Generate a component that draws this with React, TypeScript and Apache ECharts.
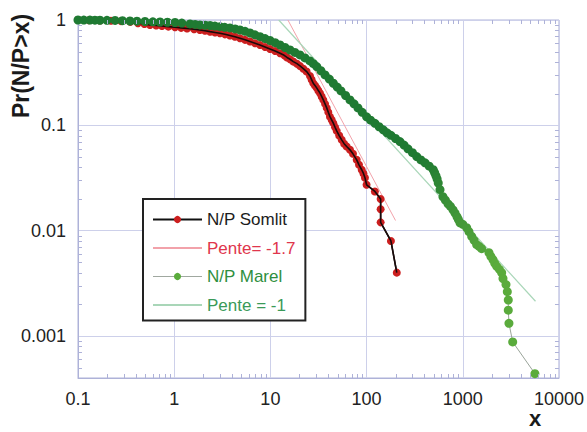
import React, { useEffect, useRef } from 'react';
import * as echarts from 'echarts';

const X_MIN = 0.1;
const X_MAX = 10000;
const Y_MIN = 0.0004;
const Y_MAX = 1;

const somlitX = [0.1, 0.13, 0.169, 0.22, 0.28, 0.35, 0.42, 0.49, 0.56, 0.65, 0.746, 0.87, 1.02, 1.18, 1.36, 1.61, 1.85, 2.09, 2.36, 2.66, 2.99, 3.37, 3.8, 4.28, 4.83, 5.45, 6.14, 6.92, 7.8, 8.8, 9.91, 11.2, 12.6, 13.9, 14.9, 16.0, 17.3, 18.9, 20.3, 22.0, 23.8, 25.8, 26.8, 27.9, 29.1, 30.3, 31.5, 32.8, 34.1, 35.5, 37.0, 38.5, 40.0, 41.6, 43.3, 45.1, 47.0, 48.9, 51.9, 55.1, 58.4, 62.1, 67.2, 72.2, 78.9, 83.4, 89.0, 92.8, 96.2, 100, 122, 140, 140, 140, 179, 206];
const somlitY = [1.0, 0.995, 0.99, 0.985, 0.975, 0.96, 0.93, 0.915, 0.897, 0.887, 0.877, 0.865, 0.853, 0.842, 0.831, 0.818, 0.804, 0.79, 0.775, 0.762, 0.748, 0.731, 0.713, 0.693, 0.671, 0.648, 0.625, 0.602, 0.579, 0.555, 0.531, 0.507, 0.483, 0.462, 0.441, 0.424, 0.403, 0.385, 0.366, 0.345, 0.324, 0.294, 0.272, 0.251, 0.239, 0.227, 0.214, 0.202, 0.188, 0.1745, 0.16, 0.1465, 0.133, 0.121, 0.113, 0.105, 0.096, 0.0887, 0.08, 0.0729, 0.067, 0.063, 0.0586, 0.0537, 0.0471, 0.0422, 0.0379, 0.035, 0.0318, 0.0273, 0.0236, 0.02, 0.016, 0.012, 0.008, 0.004];

const marelX = [0.1, 0.115, 0.133, 0.15, 0.169, 0.2, 0.243, 0.29, 0.347, 0.41, 0.497, 0.6, 0.712, 0.85, 1.02, 1.2, 1.46, 1.65, 1.85, 2.1, 2.36, 2.65, 2.99, 3.35, 3.8, 4.3, 4.83, 5.45, 6.14, 6.9, 7.8, 8.8, 9.91, 11.2, 12.6, 14.2, 16.0, 18.0, 20.3, 22.9, 25.8, 28.0, 30.3, 33.5, 37.0, 41.0, 45.1, 49.5, 54.2, 60.5, 67.2, 74.0, 81.4, 90.0, 100, 110, 122, 135, 149, 163, 179, 200, 222, 245, 269, 300, 332, 367, 405, 448, 493, 510, 526, 541, 556, 580, 622, 660, 702, 745, 791, 830, 871, 900, 935, 1000, 1098, 1160, 1238, 1310, 1395, 1480, 1572, 1872, 1960, 2061, 2150, 2251, 2400, 2537, 2618, 2813, 2904, 2972, 2972, 3020, 3303, 5623];
const marelY = [1.0, 0.999, 0.998, 0.997, 0.995, 0.993, 0.99, 0.985, 0.978, 0.975, 0.968, 0.962, 0.957, 0.952, 0.947, 0.935, 0.917, 0.907, 0.897, 0.892, 0.887, 0.876, 0.864, 0.852, 0.84, 0.822, 0.804, 0.78, 0.753, 0.724, 0.695, 0.667, 0.639, 0.609, 0.579, 0.548, 0.519, 0.492, 0.466, 0.437, 0.409, 0.385, 0.361, 0.33, 0.301, 0.275, 0.251, 0.231, 0.212, 0.192, 0.1745, 0.16, 0.1465, 0.133, 0.1206, 0.112, 0.1045, 0.097, 0.0906, 0.085, 0.0804, 0.075, 0.0702, 0.065, 0.0599, 0.055, 0.0506, 0.047, 0.0441, 0.041, 0.0379, 0.0355, 0.0332, 0.031, 0.0283, 0.0245, 0.021, 0.0195, 0.018, 0.017, 0.0158, 0.0147, 0.0136, 0.0128, 0.0119, 0.0115, 0.01067, 0.0098, 0.00883, 0.0081, 0.00737, 0.0071, 0.00675, 0.00619, 0.0057, 0.00531, 0.0049, 0.00459, 0.0043, 0.004, 0.00352, 0.00308, 0.00264, 0.0022, 0.00176, 0.00132, 0.00088, 0.00044];

const fitSomlitX = [15.2, 200];
const fitSomlitY = [1, 0.0125];
const fitMarelX = [12.2, 5700];
const fitMarelY = [1, 0.00214];

const xDecades = [0.1, 1, 10, 100, 1000];
const yDecades = [0.0001, 0.001, 0.01, 0.1];
const minorMultipliers = [2, 3, 4, 5, 6, 7, 8, 9];

const FONT = "'Liberation Sans', Arial, Helvetica, sans-serif";
const FRAME = '#aeb2d8';
const GRIDC = '#cdd0ea';

const zip = (xs: number[], ys: number[]) => xs.map((x, i) => [x, ys[i]]);

const fmtTick = (v: number) => {
  const s = Number(Number(v).toPrecision(6));
  const l = Math.log10(s);
  return Math.abs(l - Math.round(l)) < 1e-6 ? String(s) : '';
};

const marelColor = (p: any) => {
  const y = p.value[1];
  const l = Math.log10(y);
  const t = Math.max(0, Math.min(1, (-1.3 - l) / 1.0));
  const c0 = [31, 122, 50];
  const c1 = [90, 171, 60];
  const c = c0.map((a, i) => Math.round(a + (c1[i] - a) * t));
  return `rgb(${c[0]},${c[1]},${c[2]})`;
};

export default function App() {
  const ref = useRef<HTMLDivElement>(null);
  useEffect(() => {
    if (!ref.current) return;
    const chart = echarts.init(ref.current, undefined, { renderer: 'svg' });
    const xMinor: number[][] = [];
    xDecades.forEach((d) => minorMultipliers.forEach((m) => xMinor.push([Number((d * m).toPrecision(6)), 0.5])));
    const yMinor: number[][] = [];
    yDecades.forEach((d) =>
      minorMultipliers.forEach((m) => {
        const v = Number((d * m).toPrecision(6));
        if (v > Y_MIN) yMinor.push([1, v]);
      })
    );
    const tickLen = 4;
    const option: any = {
      animation: false,
      backgroundColor: '#fff',
      grid: {
        left: 78,
        top: 20,
        right: 28,
        bottom: 54,
        show: true,
        borderColor: FRAME,
        borderWidth: 1,
        containLabel: false,
      },
      xAxis: {
        type: 'log',
        logBase: 10,
        min: X_MIN,
        max: X_MAX,
        axisLine: { show: true, lineStyle: { color: FRAME, width: 1 } },
        axisTick: { show: false },
        axisLabel: { formatter: fmtTick, fontSize: 18, color: '#222', fontFamily: FONT, margin: 12 },
        splitLine: { show: true, lineStyle: { color: GRIDC, width: 1 } },
      },
      yAxis: {
        type: 'log',
        logBase: 10,
        min: Y_MIN,
        max: Y_MAX,
        axisLine: { show: true, lineStyle: { color: FRAME, width: 1 } },
        axisTick: { show: false },
        axisLabel: { formatter: fmtTick, fontSize: 18, color: '#222', fontFamily: FONT, margin: 12 },
        splitLine: { show: true, lineStyle: { color: GRIDC, width: 1 } },
      },
      legend: {
        orient: 'vertical',
        left: 143,
        top: 199,
        padding: [12, 10, 7, 9],
        itemGap: 11.5,
        itemWidth: 49,
        itemHeight: 9,
        borderColor: '#222',
        borderWidth: 2,
        backgroundColor: '#fff',
        z: 20,
        textStyle: { fontSize: 17, fontFamily: FONT },
        data: [
          { name: 'N/P Somlit', textStyle: { color: '#1c1c1c' } },
          { name: 'Pente= -1.7', textStyle: { color: '#e0364c' }, itemStyle: { opacity: 0 } },
          { name: 'N/P Marel', textStyle: { color: '#2f8f40' }, itemStyle: { color: '#5aab3c' }, lineStyle: { width: 1, color: '#a0a8a0' } },
          { name: 'Pente = -1', textStyle: { color: '#3a9a58' }, itemStyle: { opacity: 0 } },
        ],
      },
      graphic: [
        {
          type: 'text',
          x: 21,
          y: 66,
          rotation: Math.PI / 2,
          style: {
            text: 'Pr(N/P>x)',
            fontSize: 23,
            fontWeight: 'bold',
            fontFamily: FONT,
            fill: '#1a1a1a',
            align: 'center',
            verticalAlign: 'middle',
          },
        },
        {
          type: 'text',
          x: 535,
          y: 429,
          style: {
            text: 'x',
            fontSize: 22,
            fontWeight: 'bold',
            fontFamily: FONT,
            fill: '#1a1a1a',
            align: 'center',
            verticalAlign: 'bottom',
          },
        },
      ],
      series: [
        {
          name: 'Pente= -1.7',
          type: 'line',
          data: zip(fitSomlitX, fitSomlitY),
          symbol: 'none',
          lineStyle: { color: '#f2a2aa', width: 1 },
          itemStyle: { color: '#f2a2aa' },
          z: 1,
          silent: true,
        },
        {
          name: 'Pente = -1',
          type: 'line',
          data: zip(fitMarelX, fitMarelY),
          symbol: 'none',
          lineStyle: { color: '#a9d6b8', width: 1.2 },
          itemStyle: { color: '#a9d6b8' },
          z: 1,
          silent: true,
        },
        {
          name: 'N/P Somlit',
          type: 'line',
          data: zip(somlitX, somlitY),
          symbol: 'circle',
          symbolSize: 8,
          showSymbol: true,
          showAllSymbol: true,
          clip: false,
          itemStyle: { color: '#cc1f1f' },
          lineStyle: { color: '#111', width: 1.5 },
          z: 2,
        },
        {
          name: 'somlit-line-overlay',
          type: 'line',
          data: zip(somlitX, somlitY),
          symbol: 'none',
          clip: false,
          lineStyle: { color: '#1a0a0a', width: 1.6 },
          z: 3,
          silent: true,
        },
        {
          name: 'N/P Marel',
          type: 'line',
          data: zip(marelX, marelY),
          symbol: 'circle',
          symbolSize: 9,
          showSymbol: true,
          showAllSymbol: true,
          clip: false,
          itemStyle: { color: marelColor },
          lineStyle: { color: '#9aa49a', width: 1 },
          z: 4,
        },
        {
          name: 'x-minor',
          type: 'custom',
          silent: true,
          z: 5,
          data: xMinor,
          renderItem: (params: any, api: any) => {
            const cs = params.coordSys;
            const px = Math.round(api.coord([api.value(0), api.value(1)])[0]) + 0.5;
            const yb = cs.y + cs.height;
            return {
              type: 'group',
              children: [
                { type: 'line', shape: { x1: px, y1: yb, x2: px, y2: yb - tickLen }, style: { stroke: FRAME, lineWidth: 1 } },
                { type: 'line', shape: { x1: px, y1: cs.y, x2: px, y2: cs.y + tickLen }, style: { stroke: FRAME, lineWidth: 1 } },
              ],
            };
          },
        },
        {
          name: 'y-minor',
          type: 'custom',
          silent: true,
          z: 5,
          data: yMinor,
          renderItem: (params: any, api: any) => {
            const cs = params.coordSys;
            const py = Math.round(api.coord([api.value(0), api.value(1)])[1]) + 0.5;
            const xr = cs.x + cs.width;
            return {
              type: 'group',
              children: [
                { type: 'line', shape: { x1: cs.x, y1: py, x2: cs.x + tickLen, y2: py }, style: { stroke: FRAME, lineWidth: 1 } },
                { type: 'line', shape: { x1: xr, y1: py, x2: xr - tickLen, y2: py }, style: { stroke: FRAME, lineWidth: 1 } },
              ],
            };
          },
        },
      ],
    };
    chart.setOption(option);
    return () => chart.dispose();
  }, []);
  return <div ref={ref} style={{ position: 'fixed', left: 0, top: 0, width: 587, height: 432 }} />;
}
